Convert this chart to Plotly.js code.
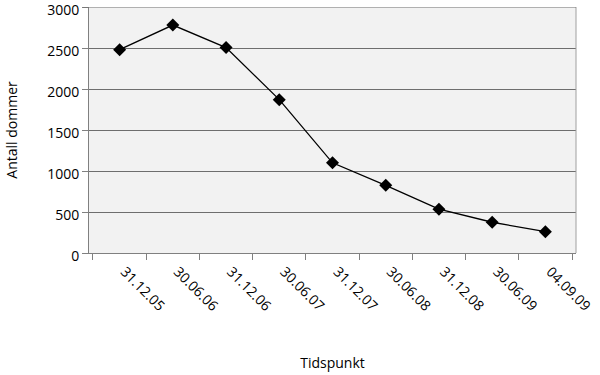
<!DOCTYPE html>
<html><head><meta charset="utf-8">
<script src="https://cdn.plot.ly/plotly-3.0.1.min.js"></script>
<style>body{margin:0;padding:0;background:#fff}#c{width:600px;height:375px}</style>
</head><body><div id="c"></div>
<script>
const categories = ["31.12.05","30.06.06","31.12.06","30.06.07","31.12.07","30.06.08","31.12.08","30.06.09","04.09.09"];
const values = [2480, 2780, 2505, 1870, 1100, 825, 535, 375, 260];
const yTicks = [0, 500, 1000, 1500, 2000, 2500, 3000];

const font = {family: "Open Sans, Noto Sans, sans-serif", size: 14, color: "#000"};
Plotly.newPlot("c", [{
  x: categories, y: values, type: "scatter", mode: "lines+markers",
  line: {color: "#000", width: 1.3},
  marker: {symbol: "diamond", size: 10, color: "#000"},
  hoverinfo: "skip", cliponaxis: false
}], {
  width: 600, height: 375,
  margin: {l: 89, r: 24, t: 7, b: 122},
  paper_bgcolor: "#fff", plot_bgcolor: "#f2f2f2",
  font: font,
  showlegend: false,
  xaxis: {
    type: "category", tickangle: 45, tickson: "boundaries",
    ticks: "outside", ticklen: 6, tickcolor: "#808080",
    showline: true, linecolor: "#808080", mirror: false,
    showgrid: false, tickfont: font, ticklabelshift: 5, ticklabelstandoff: 4,
    title: {text: "Tidspunkt", font: font, standoff: 44}
  },
  yaxis: {
    range: [0, 3000], tickvals: yTicks, ticks: "outside", ticklen: 6, tickcolor: "#808080",
    showline: true, linecolor: "#808080", gridcolor: "#6e6e6e", gridwidth: 1,
    zeroline: false, tickfont: font, ticklabeloverflow: "allow", ticklabelshift: 3,
    title: {text: "Antall dommer", font: font, standoff: 26}
  },
  shapes: [
    {type: "line", xref: "paper", yref: "paper", x0: 1, x1: 1, y0: 0, y1: 1, line: {color: "#a0a0a0", width: 1}},
    {type: "line", xref: "paper", yref: "y", x0: -0.0125, x1: 1, y0: 3000, y1: 3000, line: {color: "#6e6e6e", width: 1}}
  ]
}, {displayModeBar: false, staticPlot: true});
</script></body></html>
